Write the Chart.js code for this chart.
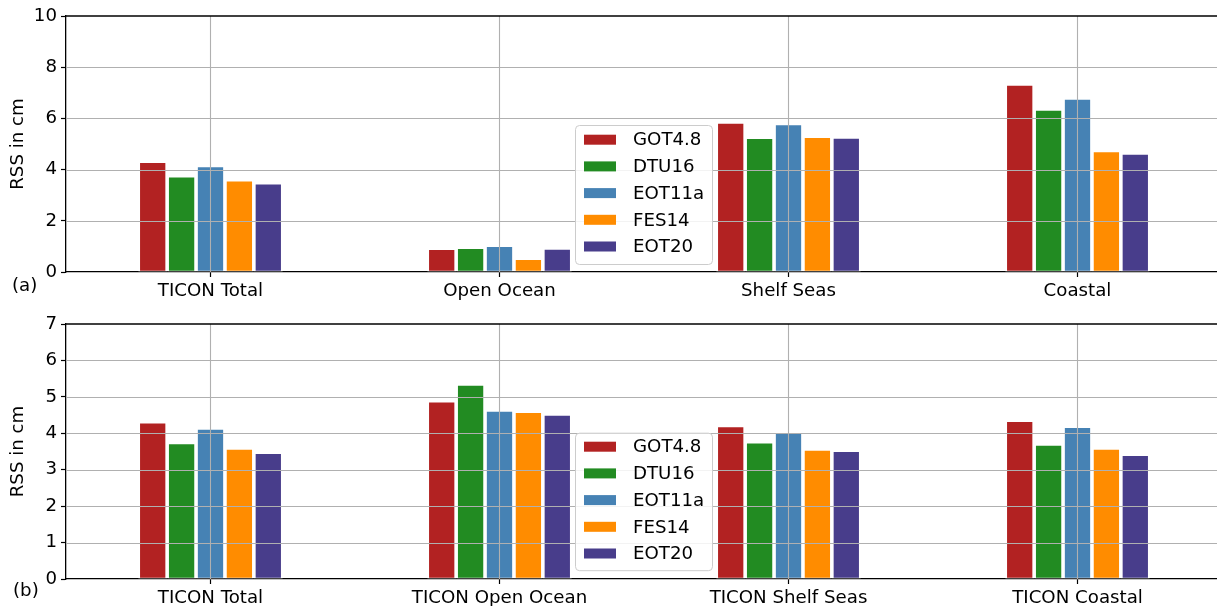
<!DOCTYPE html>
<html>
<head>
<meta charset="utf-8">
<script src="https://cdn.jsdelivr.net/npm/chart.js@4/dist/chart.umd.min.js"></script>
<style>
  html, body { margin: 0; padding: 0; background: #fff; overflow: hidden; width: 1217px; height: 606px; }
  .panel { position: absolute; left: 0; }
  #wrapA { top: 0; width: 1222px; height: 300px; }
  #wrapB { top: 300px; width: 1222px; height: 306px; }
</style>
</head>
<body>
<div id="wrapA" class="panel"><canvas id="chartA"></canvas></div>
<div id="wrapB" class="panel"><canvas id="chartB"></canvas></div>
<script>
// Region categories for the two panels
const regionsA = ['TICON Total', 'Open Ocean', 'Shelf Seas', 'Coastal'];
const regionsB = ['TICON Total', 'TICON Open Ocean', 'TICON Shelf Seas', 'TICON Coastal'];

// Tide models
const models = ['GOT4.8', 'DTU16', 'EOT11a', 'FES14', 'EOT20'];
const modelColors = ['#b22222', '#228b22', '#4682b4', '#ff8c00', '#483d8b'];

// Root-sum-square error (cm), panel (a): one value per region
const got48A  = [4.29, 0.89, 5.82, 7.31];
const dtu16A  = [3.72, 0.93, 5.23, 6.33];
const eot11aA = [4.12, 1.01, 5.76, 6.76];
const fes14A  = [3.57, 0.50, 5.27, 4.71];
const eot20A  = [3.45, 0.90, 5.24, 4.61];

// Root-sum-square error (cm), panel (b)
const got48B  = [4.29, 4.87, 4.19, 4.33];
const dtu16B  = [3.72, 5.33, 3.74, 3.68];
const eot11aB = [4.12, 4.61, 4.01, 4.17];
const fes14B  = [3.57, 4.58, 3.54, 3.57];
const eot20B  = [3.45, 4.50, 3.51, 3.40];

// Axis limits and ticks
const yMaxA = 10, yStepA = 2;
const yMaxB = 7,  yStepB = 1;

const FONT = 'DejaVu Sans';
const FSIZE = 18.2;
const GRID = '#b0b0b0';

Chart.defaults.font.family = FONT;
Chart.defaults.font.size = FSIZE;
Chart.defaults.color = '#000';
Chart.defaults.animation = false;

// Grid lines drawn on top of the bars, plus the top spine
const overGrid = {
  id: 'overGrid',
  afterDatasetsDraw(chart) {
    const { ctx, chartArea: a, scales: { x, y } } = chart;
    ctx.save();
    ctx.strokeStyle = GRID;
    ctx.lineWidth = 1.1;
    ctx.beginPath();
    y.ticks.forEach(t => {
      const py = Math.round(y.getPixelForValue(t.value)) + 0.5;
      if (t.value > 0 && t.value < y.max) { ctx.moveTo(a.left, py); ctx.lineTo(a.right, py); }
    });
    x.ticks.forEach((t, i) => {
      const px = Math.round(x.getPixelForTick(i)) - 0.5;
      ctx.moveTo(px, a.top); ctx.lineTo(px, a.bottom);
    });
    ctx.stroke();
    ctx.restore();
  },
  afterDraw(chart, args, opts) {
    const { ctx, chartArea: a } = chart;
    ctx.save();
    ctx.strokeStyle = '#000';
    ctx.lineWidth = 1.3;
    ctx.beginPath();
    ctx.moveTo(a.left, a.top); ctx.lineTo(a.right, a.top);
    ctx.stroke();
    // panel letter
    ctx.fillStyle = '#000';
    ctx.font = FSIZE + 'px ' + FONT;
    ctx.textBaseline = 'middle';
    ctx.textAlign = 'left';
    ctx.fillText(opts.letter, opts.letterX, opts.letterY);
    ctx.restore();
  }
};

// Framed legend placed inside the plot area
const boxLegend = {
  id: 'boxLegend',
  afterDraw(chart, args, opts) {
    const { ctx } = chart;
    const { x, y, w, h, rowStep, firstRow } = opts;
    ctx.save();
    ctx.beginPath();
    ctx.roundRect(x + 0.5, y + 0.5, w, h, 4);
    ctx.fillStyle = 'rgba(255,255,255,0.85)';
    ctx.fill();
    ctx.strokeStyle = '#cccccc';
    ctx.lineWidth = 1;
    ctx.stroke();
    ctx.font = FSIZE + 'px ' + FONT;
    ctx.textBaseline = 'middle';
    ctx.textAlign = 'left';
    chart.data.datasets.forEach((ds, i) => {
      const cy = y + firstRow + i * rowStep;
      ctx.fillStyle = ds.backgroundColor;
      ctx.fillRect(x + 9, cy - 5, 32, 10);
      ctx.fillStyle = '#000';
      ctx.fillText(ds.label, x + 58, cy + 1);
    });
    ctx.restore();
  }
};

function makeDatasets(series) {
  return series.map((vals, i) => ({
    label: models[i],
    data: vals,
    backgroundColor: modelColors[i],
    borderColor: '#ffffff',
    borderWidth: { left: 1.8, right: 1.8, top: 0.8, bottom: 0.8 },
    borderSkipped: false,
    categoryPercentage: 0.5,
    barPercentage: 1.0
  }));
}

function makeChart(id, labels, series, yMax, yStep, topPad, xHeight, letter, legendPos) {
  return new Chart(document.getElementById(id), {
    type: 'bar',
    data: { labels, datasets: makeDatasets(series) },
    options: {
      responsive: true,
      maintainAspectRatio: false,
      devicePixelRatio: 1,
      layout: { padding: { top: topPad, left: 0, right: 0, bottom: 0 } },
      plugins: {
        legend: { display: false },
        tooltip: { enabled: false },
        overGrid: letter,
        boxLegend: legendPos
      },
      scales: {
        x: {
          offset: true,
          grid: { display: true, drawOnChartArea: false, drawTicks: true, tickLength: 5, tickColor: '#000', tickWidth: 1.2, offset: false },
          border: { display: true, color: '#000', width: 1.3 },
          ticks: { padding: 3, maxRotation: 0, autoSkip: false, color: '#000', font: { size: FSIZE } },
          afterFit(s) { s.height = xHeight; }
        },
        y: {
          min: 0, max: yMax,
          grid: { display: true, drawOnChartArea: false, drawTicks: true, tickLength: 5, tickColor: '#000', tickWidth: 1.2 },
          border: { display: true, color: '#000', width: 1.3 },
          ticks: { stepSize: yStep, padding: 4, color: '#000', font: { size: FSIZE } },
          title: { display: true, text: 'RSS in cm', color: '#000', font: { size: FSIZE }, padding: { top: 7, bottom: 0 } },
          afterFit(s) { s.width = 66; }
        }
      }
    },
    plugins: [overGrid, boxLegend]
  });
}

makeChart('chartA', regionsA, [got48A, dtu16A, eot11aA, fes14A, eot20A], yMaxA, yStepA, 16, 28,
  { letter: '(a)', letterX: 12, letterY: 286 },
  { x: 575, y: 125, w: 137, h: 139, firstRow: 14.7, rowStep: 26.7 });

makeChart('chartB', regionsB, [got48B, dtu16B, eot11aB, fes14B, eot20B], yMaxB, yStepB, 24, 27,
  { letter: '(b)', letterX: 13, letterY: 291 },
  { x: 575, y: 132.7, w: 137, h: 137.5, firstRow: 14, rowStep: 26.7 });
</script>
</body>
</html>
